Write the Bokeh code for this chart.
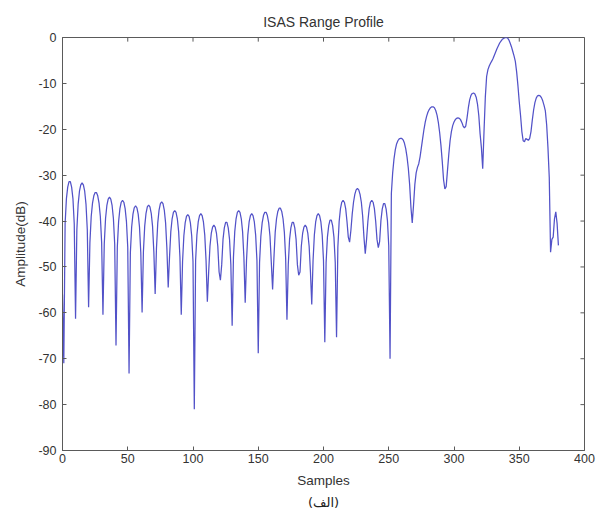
from bokeh.plotting import figure
from bokeh.models import FixedTicker, Title, Range1d, ColumnDataSource
from bokeh.embed import file_html
from bokeh.resources import INLINE

# Samples 0..380, amplitude in dB
amplitude_db = [
    -56.0, -71.0,
    -40.6, -35.1, -32.6, -31.4, -31.4, -32.6, -35.1, -40.6, -61.3,
    -41.9, -36.3, -33.5, -32.1, -31.7, -32.1, -33.5, -36.3, -41.9, -58.8,
    -44.7, -39.0, -36.1, -34.5, -33.8, -33.8, -34.5, -36.1, -39.0, -44.7, -60.4,
    -45.0, -39.4, -36.6, -35.2, -34.8, -35.2, -36.6, -39.4, -45.0, -67.1,
    -45.7, -40.1, -37.3, -35.9, -35.5, -35.9, -37.3, -40.1, -45.7, -73.2,
    -46.9, -41.3, -38.5, -37.1, -36.7, -37.1, -38.5, -41.3, -46.9, -59.9,
    -46.7, -41.1, -38.3, -36.9, -36.5, -36.9, -38.3, -41.1, -46.7, -55.9,
    -46.0, -40.4, -37.6, -36.2, -35.8, -36.2, -37.6, -40.4, -46.0, -54.5,
    -47.9, -42.3, -39.5, -38.1, -37.7, -38.1, -39.5, -42.3, -47.9, -60.4,
    -48.8, -43.2, -40.4, -39.0, -38.6, -39.0, -40.4, -43.2, -48.8, -81.0,
    -48.6, -43.0, -40.2, -38.8, -38.4, -38.8, -40.2, -43.0, -48.6, -57.6,
    -51.1, -45.5, -42.7, -41.3, -40.9, -41.3, -42.7, -45.5, -51.1, -52.9,
    -49.5, -44.0, -41.5, -40.3, -40.3, -41.5, -44.0, -49.5, -62.8,
    -47.9, -42.3, -39.5, -38.1, -37.7, -38.1, -39.5, -42.3, -47.9, -57.8,
    -48.6, -43.0, -40.2, -38.8, -38.4, -38.8, -40.2, -43.0, -48.6, -68.8,
    -49.0, -43.3, -40.4, -38.8, -38.1, -38.1, -38.8, -40.4, -43.3, -49.0, -54.9,
    -48.1, -42.4, -39.5, -37.9, -37.2, -37.2, -37.9, -39.5, -42.4, -48.1, -61.5,
    -49.5, -44.0, -41.5, -40.3, -40.3, -41.5, -44.0, -49.5, -51.8,
    -51.1, -45.5, -42.7, -41.3, -40.9, -41.3, -42.7, -45.5, -51.1, -58.2,
    -48.6, -43.0, -40.2, -38.8, -38.4, -38.8, -40.2, -43.0, -48.6, -66.4,
    -49.0, -43.5, -41.0, -39.8, -39.8, -41.0, -43.5, -49.0, -65.3,
    -45.7, -40.1, -37.3, -35.9, -35.5, -35.9, -37.3, -40.1, -43.5, -44.6,
    -42.0, -38.5, -35.9, -34.2, -33.2, -32.9, -33.2, -34.2, -35.9, -38.9, -43.5, -47.1,
    -44.0, -40.1, -37.3, -35.9, -35.5, -35.9, -37.3, -40.1, -44.0, -45.8,
    -44.5, -39.9, -37.4, -36.2, -36.2, -37.4, -39.9, -45.4, -70.0,
    -34.0, -29.5, -26.5, -24.5, -23.2, -22.5, -22.1, -22.0, -22.0, -22.3,
    -23.0, -24.2, -26.0, -28.5, -32.0, -37.0, -40.4,
    -36.5, -32.0, -29.5, -28.3, -27.5, -26.0, -24.0, -22.0, -20.0, -18.4,
    -17.2, -16.3, -15.7, -15.3, -15.1, -15.1, -15.3, -15.9, -16.9, -18.5,
    -20.7, -23.5, -27.0, -31.0, -33.0, -32.5, -29.0, -25.5, -22.5, -20.5,
    -19.2, -18.4, -17.9, -17.6, -17.5, -17.6, -17.9, -18.5, -19.3, -19.7,
    -19.3, -17.5, -15.3, -13.6, -12.6, -12.2, -12.1, -12.3, -13.0, -14.5,
    -17.0, -21.0, -24.0, -28.6, -20.5, -13.0, -8.5, -7.0, -6.2, -5.6,
    -5.1, -4.5, -3.8, -3.1, -2.4, -1.8, -1.2, -0.8, -0.4, -0.2,
    -0.05, 0.0, -0.1, -0.5, -1.2, -2.0, -3.0, -4.0, -5.2, -7.5,
    -10.5, -14.0, -17.0, -20.5, -22.5, -22.7, -22.0, -22.2, -22.4, -22.0,
    -20.5, -18.0, -15.8, -14.2, -13.2, -12.7, -12.6, -12.7, -13.1, -13.8,
    -14.8, -16.0, -19.0, -24.0, -30.5, -46.8, -44.0, -43.5, -39.5, -38.0,
    -40.5, -45.3,
]
samples = list(range(len(amplitude_db)))

x_ticks = [0, 50, 100, 150, 200, 250, 300, 350, 400]
x_tick_labels = ["0", "50", "100", "150", "200", "250", "300", "350", "400"]
y_ticks = [-90, -80, -70, -60, -50, -40, -30, -20, -10, 0]
y_tick_labels = ["-90", "-80", "-70", "-60", "-50", "-40", "-30", "-20", "-10", "0"]

title_text = "ISAS Range Profile"
x_label = "Samples"
y_label = "Amplitude(dB)"
caption_text = "(الف)"

FONT = "Liberation Sans"
TXT = "#333333"
AX = "#5a5a5a"
LINE = "#5252c8"

p = figure(width=598, height=517, output_backend="svg", toolbar_location=None,
           x_range=Range1d(0, 400), y_range=Range1d(-90, 0),
           min_border_left=62, min_border_right=14, min_border_top=37, min_border_bottom=67,
           background_fill_color="white", border_fill_color="white")

p.title.text = title_text
p.title.align = "center"
p.title.text_font = FONT
p.title.text_font_size = "14px"
p.title.text_font_style = "normal"
p.title.text_color = TXT
p.title.standoff = 16

p.xgrid.visible = False
p.ygrid.visible = False
p.outline_line_color = AX
p.outline_line_width = 1

src = ColumnDataSource(dict(x=samples, y=amplitude_db))
p.line("x", "y", source=src, line_color=LINE, line_width=1.25)

for ax in p.xaxis:
    ax.ticker = FixedTicker(ticks=x_ticks)
    ax.major_label_overrides = dict(zip(x_ticks, x_tick_labels))
    ax.axis_label = x_label
for ax in p.yaxis:
    ax.ticker = FixedTicker(ticks=y_ticks)
    ax.major_label_overrides = dict(zip(y_ticks, y_tick_labels))
    ax.axis_label = y_label

for ax in list(p.xaxis) + list(p.yaxis):
    ax.major_tick_in = 4
    ax.major_tick_out = 0
    ax.minor_tick_in = 0
    ax.minor_tick_out = 0
    ax.axis_line_color = AX
    ax.major_tick_line_color = AX
    ax.major_label_text_font = FONT
    ax.major_label_text_font_size = "12.5px"
    ax.major_label_text_color = TXT
    ax.axis_label_text_font = FONT
    ax.axis_label_text_font_size = "13.5px"
    ax.axis_label_text_font_style = "normal"
    ax.axis_label_text_color = TXT

p.xaxis.major_label_standoff = 3
p.xaxis.axis_label_standoff = 7
p.yaxis.major_label_standoff = 6
p.yaxis.axis_label_standoff = 7

# inward tick marks along the top and right edges of the box (as in the original)
top_len = 0.9     # dB, about 4 px
right_len = 3.1   # samples, about 4 px
p.segment(x0=x_ticks, x1=x_ticks, y0=[0] * len(x_ticks), y1=[-top_len] * len(x_ticks),
          line_color=AX, line_width=1)
p.segment(x0=[400] * len(y_ticks), x1=[400 - right_len] * len(y_ticks), y0=y_ticks, y1=y_ticks,
          line_color=AX, line_width=1)

caption = Title(text=caption_text, align="center", text_font="DejaVu Sans",
                text_font_size="13px", text_font_style="normal", text_color="#222222",
                standoff=4)
p.add_layout(caption, "below")

open("out.html", "w").write(file_html(p, INLINE))
